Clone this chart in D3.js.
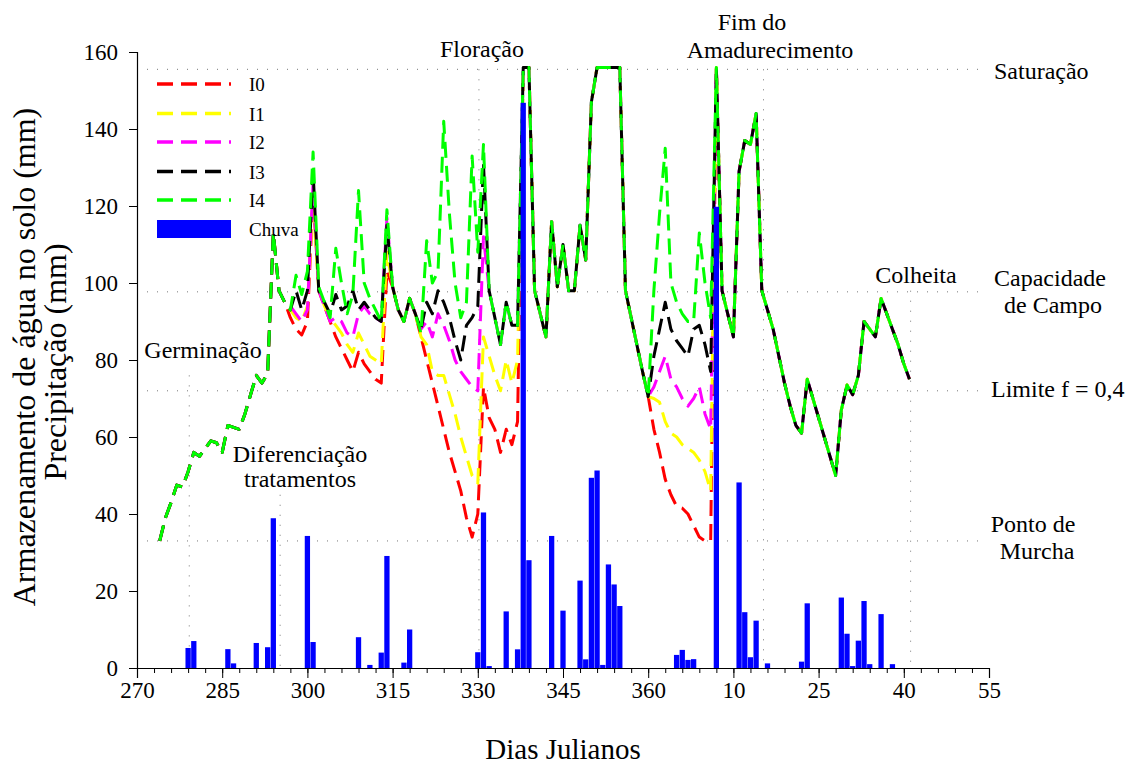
<!DOCTYPE html>
<html>
<head>
<meta charset="utf-8">
<script src="https://cdn.jsdelivr.net/npm/d3@7"></script>
<style>
  body { margin: 0; background: #fff; }
</style>
</head>
<body>
<svg id="chart" width="1126" height="764"></svg>
<script>
// ---- data (storage in mm, one value per julian day; days > 365 are next year) ----
const firstDay = 274;
// days 274-296, before the treatments split
const commonStart = [33, 39, 43, 47.5, 47, 51, 56, 55, 57, 59, 58.5, 56, 63, 62.5, 62, 66, 71, 76, 74, 76.5, 113, 98, 95];
// days 297-337, one list per treatment
const i0A = [91, 88, 86.5, 90, 123, 98, 94, 90, 86, 83, 80, 77, 82, 79, 77, 75, 74, 103, 99, 93, 90, 96, 92, 86, 80, 74, 68, 62, 56, 51, 46, 39, 34, 40, 73, 65, 62, 56, 62, 58, 64];
const i1A = [93, 91, 90, 94, 121, 98, 94, 91, 89, 87, 84, 82, 87, 84, 81, 80, 79, 108, 99, 93, 90, 96, 92, 86, 84, 77, 76, 76, 71, 66, 60, 55, 50, 48, 86, 81, 76, 72, 80, 74, 80];
const i2A = [94, 92, 90, 93, 126, 98, 94, 90, 91, 90, 87, 86, 92, 94, 92, 91, 90, 117, 99, 93, 90, 96, 92, 88, 90, 86, 92, 89, 85, 80, 77, 75, 73, 72, 112, 98, 91, 84, 95, 89, 89];
const i3A = [93, 98, 93, 98, 129, 98, 95, 92, 97, 93, 94, 98, 93, 95, 93, 91, 90, 115, 99, 93, 90, 96, 92, 88, 95, 92, 98, 95, 91, 85, 80, 89, 91, 94, 131, 98, 91, 84, 95, 89, 89];
const i4A = [93, 102, 97, 103, 134, 99, 95, 91, 109, 100, 92, 97, 124, 100, 96, 93, 90, 119, 99, 93, 90, 96, 92, 87, 111, 100, 103, 142, 118, 100, 91, 95, 133, 108, 136, 98, 91, 84, 95, 89, 89];
// days 338-360, all treatments equal
const commonMid = [156, 156, 98, 92, 86, 116, 99, 110, 98, 98, 115, 106, 147, 156, 156, 156, 156, 156, 98, 91, 84, 77, 70.5];
// days 361-371
const i0B = [62, 56, 49, 45, 42, 41.5, 40, 37, 34, 33, 33];
const i1B = [70, 69, 64, 61, 60, 58, 57, 56, 54, 51, 46];
const i2B = [73, 77, 81, 75, 73, 70, 68, 70, 73, 66, 62];
const i3B = [81, 88, 95, 88, 85, 83, 81, 88, 89, 84, 77];
const i4B = [98, 118, 135, 100, 95, 92, 90, 90, 113, 100, 91];
// days 372-406
const commonEnd = [156, 98, 92, 86, 129, 137, 136, 144, 98, 93, 88, 81, 74, 68, 63, 61, 75, 70, 65, 60, 55, 50, 67, 73.5, 71, 76, 90, 88, 86, 96, 92, 88, 84, 79, 75];

const seriesNames = ["I0", "I1", "I2", "I3", "I4"];
const seriesColors = ["#ff0000", "#ffff00", "#ff00ff", "#000000", "#00ff00"];
const partsA = [i0A, i1A, i2A, i3A, i4A];
const partsB = [i0B, i1B, i2B, i3B, i4B];

// rain
const rainDays = [279, 280, 286, 287, 291, 293, 294, 300, 301, 309, 311, 313, 314, 317, 318, 330, 331, 332, 335, 337, 338, 339, 343, 345, 348, 349, 350, 351, 352, 353, 354, 355, 365, 366, 367, 368, 372, 376, 377, 378, 379, 381, 387, 388, 394, 395, 396, 397, 398, 399, 401, 403];
const rainMm = [5.2, 7.0, 4.9, 1.2, 6.5, 5.4, 38.9, 34.3, 6.75, 8.0, 0.8, 4.0, 29.1, 1.4, 10.0, 4.1, 40.4, 0.5, 14.7, 4.85, 146.8, 28.0, 34.3, 14.9, 22.7, 2.25, 49.4, 51.3, 0.8, 26.9, 21.7, 16.1, 3.4, 4.7, 2.1, 2.3, 119.8, 48.2, 14.5, 2.8, 12.3, 1.2, 1.65, 16.8, 18.3, 8.9, 0.5, 7.1, 17.4, 1.0, 14.0, 1.0];

// reference levels and phenological marks
const refLevels = [155.5, 97.7, 72, 33];
const eventDays = [279.2, 295.2, 330.2, 380.3, 406.2];
const eventTops = [76, 45, 155.5, 155.5, 98];

// ticks
const xTicks = [270, 285, 300, 315, 330, 345, 360, 375, 390, 405, 420];
const xTickLabels = ["270", "285", "300", "315", "330", "345", "360", "10", "25", "40", "55"];
const yTicks = [0, 20, 40, 60, 80, 100, 120, 140, 160];

const serif = "'Liberation Serif', 'Times New Roman', Times, serif";

// ---- drawing ----
const svg = d3.select("#chart").attr("font-family", serif);
const x = d3.scaleLinear().domain([270, 420]).range([137, 989]);
const y = d3.scaleLinear().domain([0, 160]).range([668, 52]);

// dotted reference lines
svg.append("g").selectAll("line")
    .data(refLevels)
    .join("line")
    .attr("x1", 147).attr("x2", 985)
    .attr("y1", d => y(d)).attr("y2", d => y(d))
    .attr("stroke", "#777").attr("stroke-width", 1)
    .attr("stroke-dasharray", "1,9");

svg.append("g").selectAll("line")
    .data(eventDays)
    .join("line")
    .attr("x1", d => x(d)).attr("x2", d => x(d))
    .attr("y1", (d, i) => y(eventTops[i])).attr("y2", y(0))
    .attr("stroke", "#777").attr("stroke-width", 1)
    .attr("stroke-dasharray", "1,9");

// storage lines
const line = d3.line().x(d => x(d[0])).y(d => y(d[1]));
seriesNames.forEach((name, k) => {
    const vals = commonStart.concat(partsA[k], commonMid, partsB[k], commonEnd);
    const pts = vals.map((v, i) => [firstDay + i, v]);
    svg.append("path")
        .datum(pts)
        .attr("d", line)
        .attr("fill", "none")
        .attr("stroke", seriesColors[k])
        .attr("stroke-width", 3)
        .attr("stroke-linejoin", "round")
        .attr("stroke-dasharray", "16,8");
});

// rain bars
const barW = x(271) - x(270) - 0.4;
svg.append("g").selectAll("rect")
    .data(rainDays)
    .join("rect")
    .attr("x", d => x(d) - barW / 2)
    .attr("y", (d, i) => y(rainMm[i]))
    .attr("width", barW)
    .attr("height", (d, i) => y(0) - y(rainMm[i]))
    .attr("fill", "#0000ff");

// axes
const xAxis = svg.append("g")
    .attr("transform", `translate(0,${y(0)})`)
    .call(d3.axisBottom(x).tickValues(xTicks).tickFormat((d, i) => xTickLabels[i]).tickSize(10).tickPadding(4));
svg.append("g")
    .attr("transform", `translate(0,${y(0)})`)
    .call(d3.axisBottom(x).tickValues(d3.range(270, 421, 3)).tickFormat("").tickSize(5))
    .select(".domain").remove();
const yAxis = svg.append("g")
    .attr("transform", `translate(${x(270)},0)`)
    .call(d3.axisLeft(y).tickValues(yTicks).tickSize(8).tickPadding(11));
[xAxis, yAxis].forEach(g => {
    g.attr("font-family", serif).attr("font-size", 23);
    g.selectAll("text").attr("fill", "#000");
    g.select(".domain").attr("stroke-width", 1.2);
});

// axis titles
svg.append("text")
    .attr("x", 563).attr("y", 759)
    .attr("text-anchor", "middle")
    .attr("font-size", 29)
    .text("Dias Julianos");
svg.append("text")
    .attr("transform", "translate(35,357) rotate(-90)")
    .attr("text-anchor", "middle")
    .attr("font-size", 32)
    .text("Armazenamento de água no solo (mm)");
svg.append("text")
    .attr("transform", "translate(66,362) rotate(-90)")
    .attr("text-anchor", "middle")
    .attr("font-size", 32)
    .text("Precipitação (mm)");

// annotations
const notes = [
    ["Germinação", 203, 358, "middle"],
    ["Diferenciação", 300, 462, "middle"],
    ["tratamentos", 300, 487, "middle"],
    ["Floração", 482, 57, "middle"],
    ["Fim do", 752, 30, "middle"],
    ["Amadurecimento", 770, 58, "middle"],
    ["Saturação", 994, 79, "start"],
    ["Colheita", 916, 283, "middle"],
    ["Capacidade", 1050, 286, "middle"],
    ["de Campo", 1053, 313, "middle"],
    ["Limite f = 0,4", 991, 397, "start"],
    ["Ponto de", 1033, 532, "middle"],
    ["Murcha", 1037, 559, "middle"]
];
svg.append("g").selectAll("text")
    .data(notes)
    .join("text")
    .attr("x", d => d[1]).attr("y", d => d[2])
    .attr("text-anchor", d => d[3])
    .attr("font-size", 24)
    .text(d => d[0]);

// legend
const legend = svg.append("g").attr("transform", "translate(157,84)");
seriesNames.forEach((name, k) => {
    const ly = [0, 29.5, 58, 87.5, 116][k];
    legend.append("line")
        .attr("x1", 0).attr("x2", 74)
        .attr("y1", ly).attr("y2", ly)
        .attr("stroke", seriesColors[k])
        .attr("stroke-width", 3.3)
        .attr("stroke-dasharray", "16,8");
    legend.append("text")
        .attr("x", 92).attr("y", ly + 7)
        .attr("font-size", 19)
        .text(name);
});
legend.append("rect")
    .attr("x", 0).attr("y", 136)
    .attr("width", 74).attr("height", 18)
    .attr("fill", "#0000ff");
legend.append("text")
    .attr("x", 92).attr("y", 152)
    .attr("font-size", 19)
    .text("Chuva");
</script>
</body>
</html>
